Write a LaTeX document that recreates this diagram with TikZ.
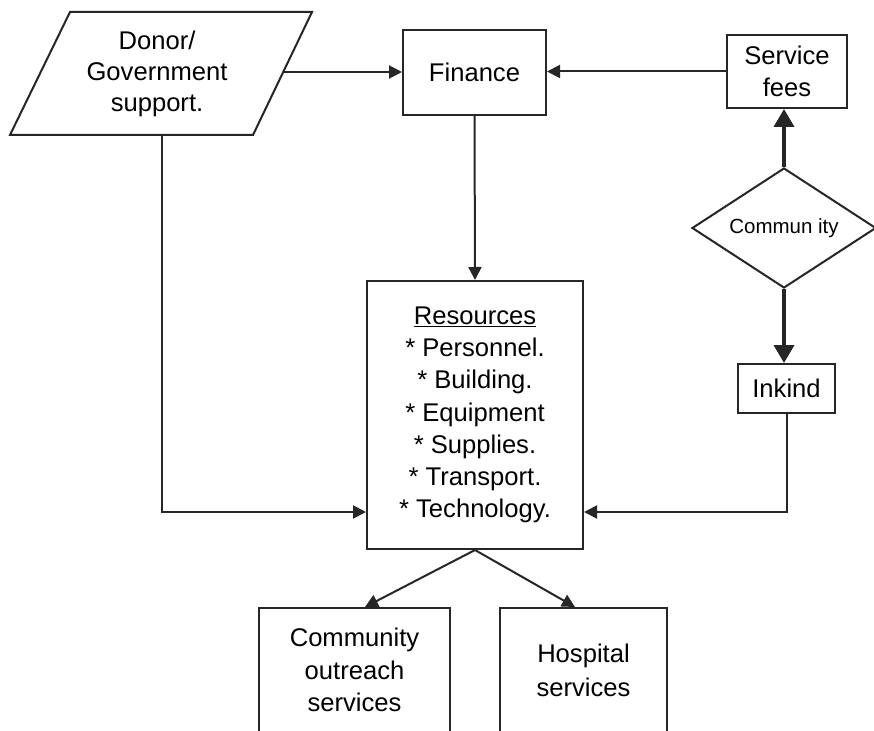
\documentclass[tikz,border=0pt]{standalone}
\usepackage{fontspec}
\setmainfont{Liberation Sans}
\usetikzlibrary{arrows.meta,shapes.geometric,calc}
\begin{document}
\begin{tikzpicture}[x=1pt,y=-1pt,line width=2pt,color=black!85,
  box/.style={draw,rectangle,inner sep=0pt,align=center,text=black,font=\fontsize{25.6}{32}\selectfont},
  arr/.style={-{Triangle[length=13pt,width=13pt]},line width=2pt},
  thickarr/.style={-{Triangle[length=18pt,width=20pt]},line width=3.8pt}]
\useasboundingbox (0,0) rectangle (874,730);
\clip (0,0) rectangle (874,730);
\fill[white] (0,0) rectangle (874,730);
% donor parallelogram
\draw (70,12) -- (312,12) -- (253,135) -- (10,135) -- cycle;
\node[align=center,text=black,font=\fontsize{25.6}{31}\selectfont] (donor) at (157,74) {Donor/\\Government\\support.};
\coordinate (donorR) at (283,72);
\coordinate (donorB) at (162,135);
\coordinate (mid) at (0,512);
% boxes
\node[box,minimum width=143,minimum height=85] (fin) at (474.5,72.5) {Finance};
\node[box,minimum width=120,minimum height=73] (fees) at (787,71.5) {Service\\fees};
\node[box,minimum width=97,minimum height=49] (inkind) at (786.5,388.5) {Inkind};
\node[box,minimum width=216,minimum height=268,font=\fontsize{25.6}{32.2}\selectfont] (res) at (475,415)
  {\underline{Resources}\\* Personnel.\\* Building.\\* Equipment\\* Supplies.\\* Transport.\\* Technology.};
\node[box,minimum width=191,minimum height=124,font=\fontsize{25.6}{32.5}\selectfont] (outreach) at (354.5,670) {Community\\outreach\\services};
\node[box,minimum width=167,minimum height=124,font=\fontsize{25.6}{34}\selectfont] (hosp) at (583.5,670) {Hospital\\services};
\node[draw,diamond,aspect=1.53,minimum width=184,minimum height=120,inner sep=0pt,text=black,font=\fontsize{20.5}{24}\selectfont] (comm) at (784,228) {Commun ity};
% connectors
\draw[arr] (donorR) -- (fin.west |- donorR);
\draw[arr] (fees.west) -- (fees.west -| fin.east);
\draw[arr] (fin.south) -- (res.north);
\draw[thickarr] (comm.north) -- (comm.north |- fees.south);
\draw[thickarr] (comm.south) -- (comm.south |- inkind.north);
\draw[arr] (inkind.south) |- (res.east |- mid);
\draw[arr] (donorB) |- (res.west |- mid);
\draw[arr] (res.south) -- ([xshift=10.5]outreach.north);
\draw[arr] (res.south) -- ([xshift=-8.5]hosp.north);
\end{tikzpicture}
\end{document}
